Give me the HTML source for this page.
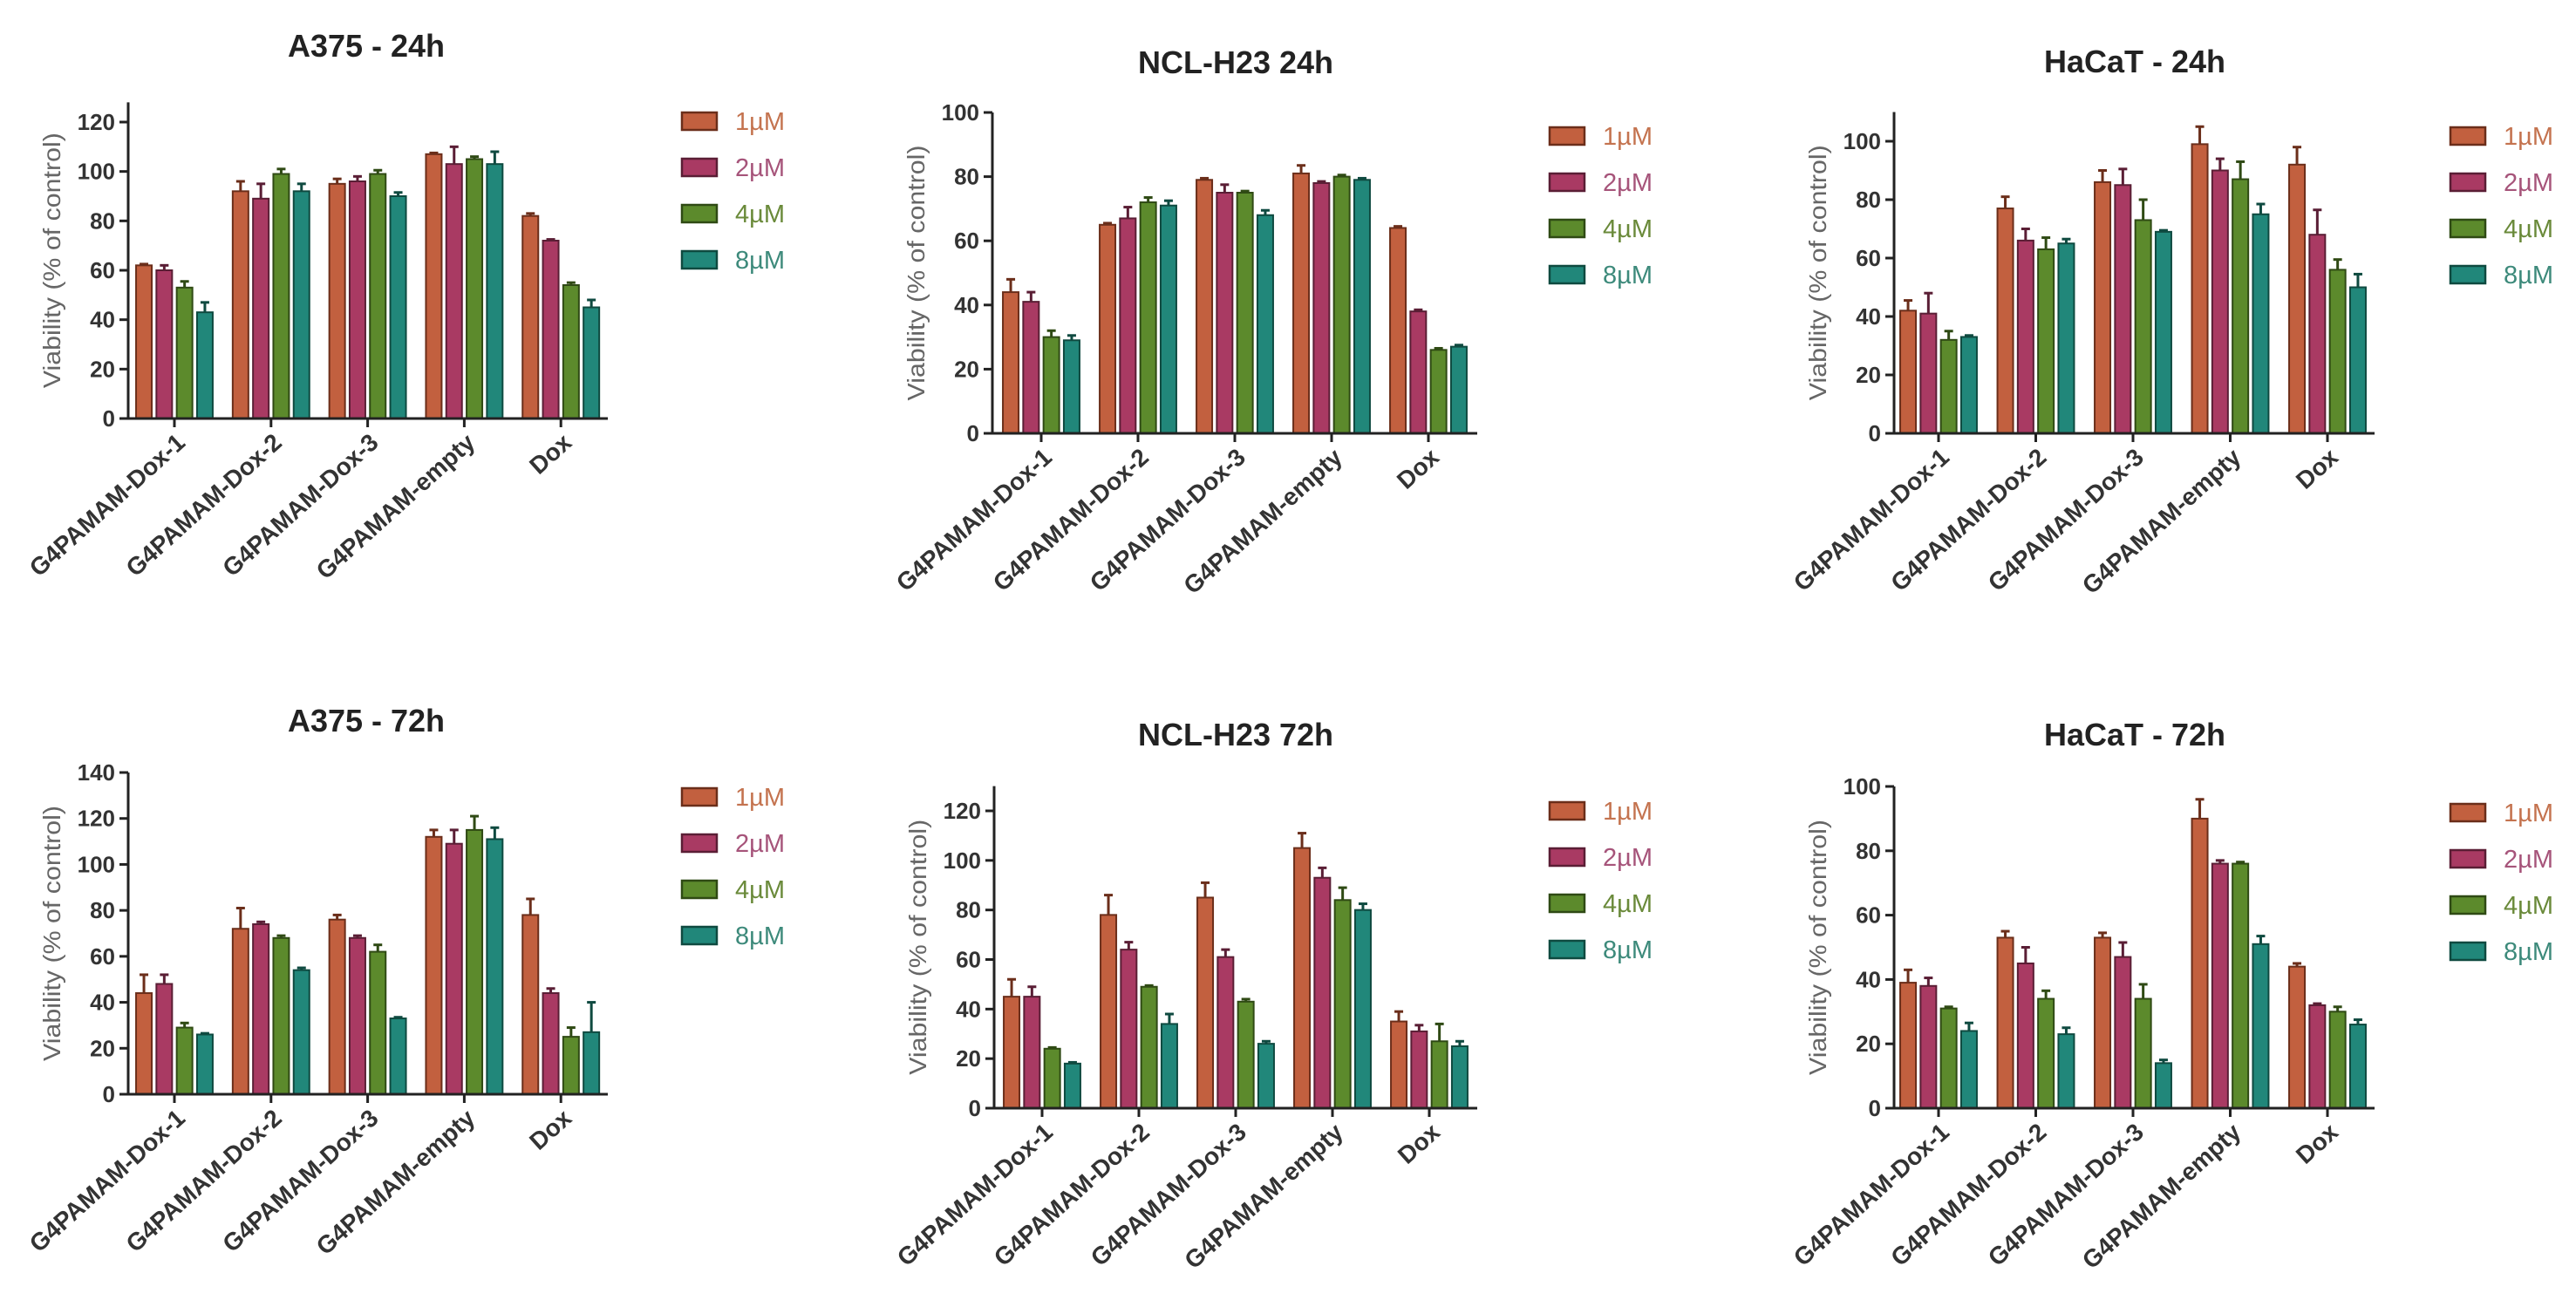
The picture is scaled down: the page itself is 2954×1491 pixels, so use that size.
<!DOCTYPE html>
<html><head><meta charset="utf-8">
<style>
html,body{margin:0;padding:0;background:#fff;overflow:hidden;}
svg{display:block;font-family:"Liberation Sans",Arial,sans-serif;}
</style></head>
<body>
<svg id="fig" width="2954" height="1491" viewBox="0 0 2954 1491"></svg>
<script>
const categories = ["G4PAMAM-Dox-1","G4PAMAM-Dox-2","G4PAMAM-Dox-3","G4PAMAM-empty","Dox"];
const seriesNames = ["1\u00b5M","2\u00b5M","4\u00b5M","8\u00b5M"];

const a375_24_values = [[62,92,95,107,82],[60,89,96,103,72],[53,99,99,105,54],[43,92,90,103,45]];
const a375_24_errors = [[0.5,4,2,0.5,1],[2,6,2,7,0.5],[2.5,2,1.5,1,1],[4,3,1.5,5,3]];
const a375_24_ticks = [0,20,40,60,80,100,120];

const a375_72_values = [[44,72,76,112,78],[48,74,68,109,44],[29,68,62,115,25],[26,54,33,111,27]];
const a375_72_errors = [[8,9,2,3,7],[4,1,1,6,2],[2,1,3,6,4],[0.5,1,0.5,5,13]];
const a375_72_ticks = [0,20,40,60,80,100,120,140];

const ncl_24_values = [[44,65,79,81,64],[41,67,75,78,38],[30,72,75,80,26],[29,71,68,79,27]];
const ncl_24_errors = [[4,0.5,0.5,2.5,0.5],[3,3.5,2.5,0.5,0.5],[2,1.5,0.5,0.5,0.5],[1.5,1.5,1.5,0.5,0.5]];
const ncl_24_ticks = [0,20,40,60,80,100];

const ncl_72_values = [[45,78,85,105,35],[45,64,61,93,31],[24,49,43,84,27],[18,34,26,80,25]];
const ncl_72_errors = [[7,8,6,6,4],[4,3,3,4,2.5],[0.5,0.5,1,5,7],[0.5,4,1,2.5,2]];
const ncl_72_ticks = [0,20,40,60,80,100,120];

const hacat_24_values = [[42,77,86,99,92],[41,66,85,90,68],[32,63,73,87,56],[33,65,69,75,50]];
const hacat_24_errors = [[3.5,4,4,6,6],[7,4,5.5,4,8.5],[3,4,7,6,3.5],[0.5,1.5,0.5,3.5,4.5]];
const hacat_24_ticks = [0,20,40,60,80,100];

const hacat_72_values = [[39,53,53,90,44],[38,45,47,76,32],[31,34,34,76,30],[24,23,14,51,26]];
const hacat_72_errors = [[4,2,1.5,6,1],[2.5,5,4.5,1,0.5],[0.5,2.5,4.5,0.5,1.5],[2.5,2,1,2.5,1.5]];
const hacat_72_ticks = [0,20,40,60,80,100];

const fills = ["#c2603f","#a93a63","#5c8a2c","#21877a"];
const strokes = ["#6b2e1a","#5a1e35","#2f4a14","#0f4a40"];
const legendText = ["#c4734f","#a6547a","#6a8a3a","#3d8a7b"];

const NS = "http://www.w3.org/2000/svg";
const fig = document.getElementById("fig");
function mk(tag, attrs, parent, text){
  const e = document.createElementNS(NS, tag);
  for (const k in attrs) e.setAttribute(k, attrs[k]);
  if (text !== undefined) e.textContent = text;
  parent.appendChild(e);
  return e;
}

function panel(p){
  const g = mk("g", {}, fig);
  
  
  const yScale = v => p.zeroY - v * (p.zeroY - p.refY) / p.refV;
  const xCat = i => p.cat0 + i * p.catStep;
  const topY = yScale(p.topV);

  const t = mk("text", {x:p.titleX, y:p.titleY+13, "text-anchor":"middle", "font-size":36, "font-weight":"bold", fill:"#222"}, g, p.title);
  
  

  for (let s = 0; s < 4; s++){
    for (let c = 0; c < categories.length; c++){
      const v = p.values[s][c], e = p.errors[s][c];
      const cx = xCat(c) + (s - 1.5) * 23.3;
      const y = yScale(v), ye = yScale(v + e);
      const eb = mk("line", {x1:cx, x2:cx, y1:y, y2:ye, stroke:strokes[s], "stroke-width":3}, g);
      
      
      const cap = mk("line", {x1:cx-5, x2:cx+5, y1:ye, y2:ye, stroke:strokes[s], "stroke-width":3}, g);
      
      
      const r = mk("rect", {x:cx-9, y:y, width:18, height:p.zeroY - y, fill:fills[s], stroke:strokes[s], "stroke-width":2}, g);
      
      
    }
  }

  const ya = mk("line", {x1:p.axisX, x2:p.axisX, y1:topY, y2:p.zeroY+1.5, stroke:"#222", "stroke-width":3}, g);
  
  
  const xa = mk("line", {x1:p.axisX-1.5, x2:p.xEnd, y1:p.zeroY, y2:p.zeroY, stroke:"#222", "stroke-width":3}, g);
  
  

  p.ticks.forEach(v => {
    const y = yScale(v);
    const tk = mk("line", {x1:p.axisX-10, x2:p.axisX, y1:y, y2:y, stroke:"#222", "stroke-width":3}, g);
    
    
    const tl = mk("text", {x:p.axisX-15, y:y+9, "text-anchor":"end", "font-size":26, "font-weight":"bold", fill:"#333"}, g, String(v));
    
    
  });

  categories.forEach((name, i) => {
    const x = xCat(i);
    const tk = mk("line", {x1:x, x2:x, y1:p.zeroY, y2:p.zeroY+10, stroke:"#222", "stroke-width":3}, g);
    
    
    const lx = x + 14, ly = p.zeroY + 30;
    const cl = mk("text", {x:0, y:0, "text-anchor":"end", "font-size":28, "font-weight":"bold", fill:"#333",
      transform:`translate(${lx},${ly}) rotate(-42)`}, g, name);
    
    
  });

  const ytx = p.axisX - 78, yty = (p.zeroY + topY) / 2;
  const yt = mk("text", {x:0, y:0, "text-anchor":"middle", "font-size":28, fill:"#666",
    textLength:293, lengthAdjust:"spacingAndGlyphs", transform:`translate(${ytx},${yty}) rotate(-90)`}, g, "Viability (% of control)");
  
  

  seriesNames.forEach((n, s) => {
    const y = p.legY + s * 53;
    const sw = mk("rect", {x:p.legX, y:y-10, width:40, height:20, fill:fills[s], stroke:strokes[s], "stroke-width":2.5}, g);
    
    
    const lt = mk("text", {x:p.legX+61, y:y+10, "font-size":29, fill:legendText[s]}, g, n);
    
    
  });
}

panel({name:"chart-a375-24h", title:"A375 - 24h", titleX:420, titleY:52, axisX:147, zeroY:480, refY:140, refV:120, topV:128,
  xEnd:697, cat0:200, catStep:110.8, ticks:a375_24_ticks, values:a375_24_values, errors:a375_24_errors, legX:782, legY:139});
panel({name:"chart-a375-72h", title:"A375 - 72h", titleX:420, titleY:826, axisX:147, zeroY:1255, refY:886, refV:140, topV:140,
  xEnd:697, cat0:200, catStep:110.8, ticks:a375_72_ticks, values:a375_72_values, errors:a375_72_errors, legX:782, legY:914});
panel({name:"chart-ncl-h23-24h", title:"NCL-H23  24h", titleX:1417, titleY:71, axisX:1138, zeroY:497, refY:129, refV:100, topV:100,
  xEnd:1694, cat0:1194, catStep:111, ticks:ncl_24_ticks, values:ncl_24_values, errors:ncl_24_errors, legX:1777, legY:156});
panel({name:"chart-ncl-h23-72h", title:"NCL-H23 72h", titleX:1417, titleY:842, axisX:1140, zeroY:1271, refY:930, refV:120, topV:130,
  xEnd:1694, cat0:1195, catStep:111, ticks:ncl_72_ticks, values:ncl_72_values, errors:ncl_72_errors, legX:1777, legY:930});
panel({name:"chart-hacat-24h", title:"HaCaT - 24h", titleX:2448, titleY:70, axisX:2172, zeroY:497, refY:162, refV:100, topV:110,
  xEnd:2723, cat0:2223, catStep:111.5, ticks:hacat_24_ticks, values:hacat_24_values, errors:hacat_24_errors, legX:2810, legY:156});
panel({name:"chart-hacat-72h", title:"HaCaT - 72h", titleX:2448, titleY:842, axisX:2172, zeroY:1271, refY:902, refV:100, topV:100,
  xEnd:2723, cat0:2223, catStep:111.5, ticks:hacat_72_ticks, values:hacat_72_values, errors:hacat_72_errors, legX:2810, legY:932});
</script>
</body></html>
